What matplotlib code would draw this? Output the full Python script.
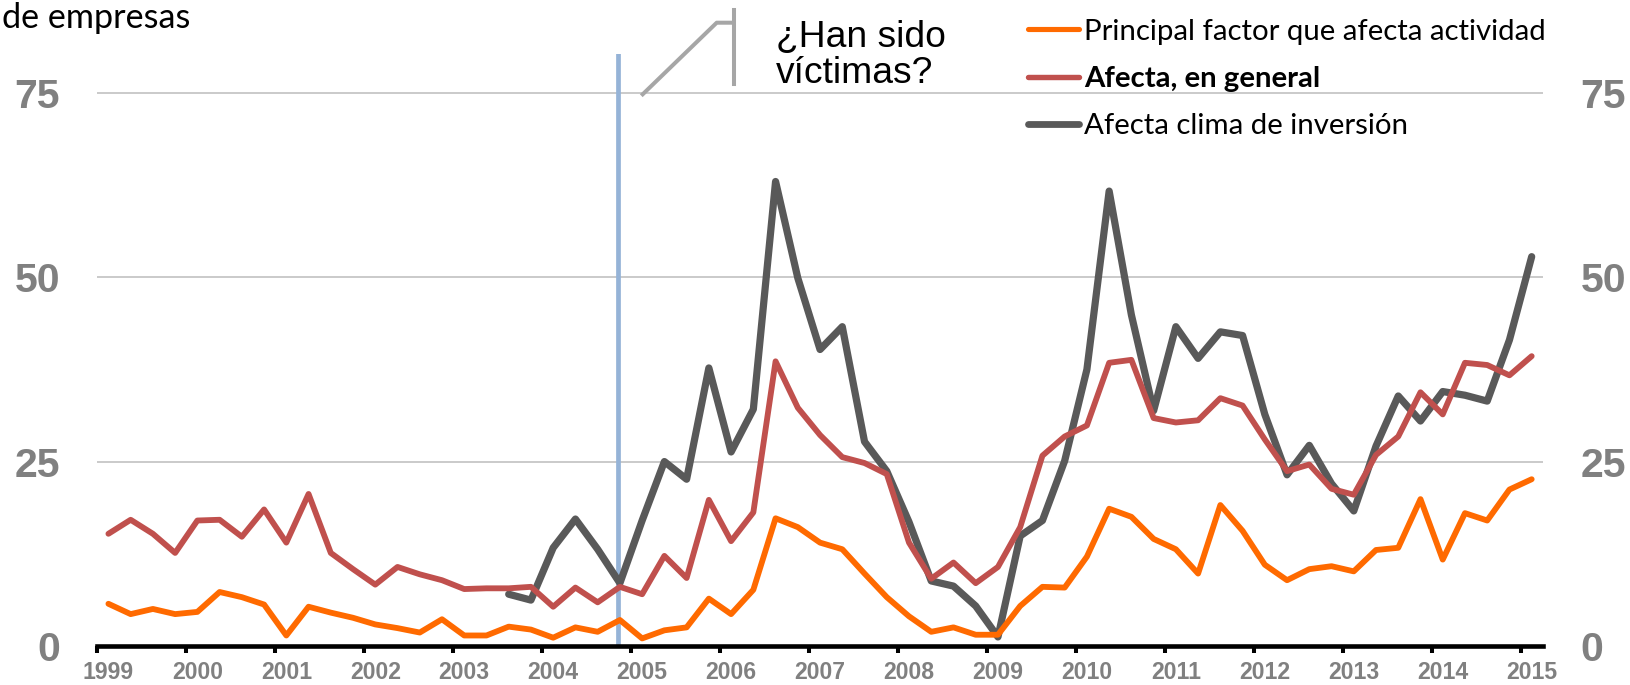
import matplotlib
matplotlib.use("Agg")
import matplotlib.pyplot as plt
from matplotlib.lines import Line2D
import numpy as np

W, H = 1631, 685

years = [str(y) for y in range(1999, 2016)]

principal = [5.7, 4.3, 5.0, 4.3,
             4.6, 7.3, 6.6, 5.6,
             1.4, 5.3, 4.5, 3.8,
             2.9, 2.4, 1.8, 3.6,
             1.4, 1.4, 2.6, 2.2,
             1.1, 2.5, 1.9, 3.5,
             1.0, 2.1, 2.5, 6.4,
             4.3, 7.6, 17.3, 16.1,
             14.0, 13.1, 9.8, 6.6,
             4.0, 1.9, 2.5, 1.5,
             1.5, 5.4, 8.0, 7.9,
             12.1, 18.6, 17.5, 14.5,
             13.1, 9.8, 19.1, 15.6,
             11.0, 8.9, 10.4, 10.8,
             10.1, 13.0, 13.3, 19.9,
             11.7, 18.0, 17.0, 21.2,
             22.6]

general = [15.2, 17.1, 15.2, 12.6,
           17.0, 17.1, 14.8, 18.5,
           14.0, 20.6, 12.6, 10.4,
           8.3, 10.7, 9.7, 8.9,
           7.7, 7.8, 7.8, 8.0,
           5.3, 7.9, 5.9, 8.0,
           7.0, 12.2, 9.2, 19.8,
           14.2, 18.1, 38.6, 32.3,
           28.6, 25.6, 24.8, 23.3,
           14.0, 9.1, 11.3, 8.5,
           10.7, 16.1, 25.8, 28.4,
           29.9, 38.4, 38.8, 30.9,
           30.3, 30.6, 33.6, 32.6,
           28.0, 23.7, 24.6, 21.3,
           20.5, 25.9, 28.4, 34.4,
           31.4, 38.4, 38.1, 36.7,
           39.3]

clima = [None] * 18 + [7.0, 6.2,
         13.3, 17.2, 13.1, 8.5,
         17.0, 25.0, 22.6, 37.7,
         26.3, 32.1, 63.0, 49.9,
         40.2, 43.3, 27.7, 23.7,
         16.8, 8.8, 8.1, 5.4,
         1.2, 14.9, 17.0, 25.1,
         37.5, 61.7, 44.9, 31.9,
         43.3, 39.0, 42.6, 42.1,
         31.4, 23.2, 27.2, 22.0,
         18.3, 27.1, 33.9, 30.5,
         34.5, 34.0, 33.2, 41.5,
         52.8]

labels = ["Principal factor que afecta actividad",
          "Afecta, en general",
          "Afecta clima de inversión"]
colors = ["#FF6A00", "#C0504D", "#595959"]
widths = [4.2, 4.2, 5.2]

yticks = [0, 25, 50, 75]
marker_quarter = 22.92   # vertical marker (2004 Q4)

n = len(principal)
x = np.arange(n)

def fx(px):
    return px / W

def fy(py):
    return 1 - py / H

fig = plt.figure(figsize=(W / 100, H / 100), dpi=100)
ax_l, ax_r, ax_t, ax_b = 97.3, 1542.8, 54.0, 645.8
ax = fig.add_axes([fx(ax_l), fy(ax_b), fx(ax_r - ax_l), (ax_b - ax_t) / H])

ax.set_xlim(-0.5, n - 0.5)
ax.set_ylim(0, 80.3)

for v in yticks[1:]:
    ax.axhline(v, color="#C6C6C6", lw=1.3, zorder=1)

ax.axvline(marker_quarter, color="#95B3D7", lw=3.4, zorder=2)

series = [principal, general, clima]
zo = [5, 4, 3]
for s, c, w, z, lab in zip(series, colors, widths, zo, labels):
    arr = np.array([np.nan if v is None else v for v in s], dtype=float)
    ax.plot(x, arr, color=c, lw=w, solid_joinstyle="round",
            solid_capstyle="round", zorder=z, label=lab)

for sp in ["top", "right", "left"]:
    ax.spines[sp].set_visible(False)
ax.spines["bottom"].set_linewidth(3.3)
ax.spines["bottom"].set_color("black")
ax.spines["bottom"].set_zorder(6)

# x ticks at year boundaries, labels at first quarter
ax.set_xticks(np.arange(0, n, 4) - 0.5)
ax.set_xticklabels([])
ax.set_xticks(np.arange(0, n, 4), minor=True)
ax.set_xticklabels(years, minor=True)
ax.tick_params(axis="x", which="major", length=5, width=2.9, color="black", direction="out")
ax.tick_params(axis="x", which="minor", length=0, pad=10.8,
               labelsize=16.6, labelcolor="#808080")
for t in ax.get_xticklabels(minor=True):
    t.set_fontfamily("Liberation Sans")
    t.set_fontweight("bold")

ax.set_yticks(yticks)
ax.set_yticklabels([str(v) for v in yticks])
ax.tick_params(axis="y", which="both", length=0, pad=27, labelsize=29.5,
               labelcolor="#808080", labelright=True, right=False)
ax.yaxis.set_tick_params(labelleft=True, labelright=True)
for tick in ax.yaxis.get_major_ticks():
    for lbl in (tick.label1, tick.label2):
        lbl.set_fontfamily("Liberation Sans")
        lbl.set_fontweight("bold")

# legend drawn manually in pixel positions
leg_y = [29.3, 76.7, 124.0]
leg_w = [3.7, 3.9, 4.9]
for lab, c, yy, lw, bold in zip(labels, colors, leg_y, leg_w, [False, True, False]):
    fig.add_artist(Line2D([fx(1028), fx(1079)], [fy(yy), fy(yy)], color=c, lw=lw,
                          solid_capstyle="round", transform=fig.transFigure))
    fig.text(fx(1084), fy(yy), lab, fontsize=21.2, family="Lato",
             fontweight="bold" if bold else "normal",
             ha="left", va="center_baseline", color="black")

# question text + callout
fig.text(fx(776), fy(46.7), "¿Han sido", fontsize=26.8, family="Liberation Sans",
         ha="left", va="baseline", color="black")
fig.text(fx(776), fy(83.3), "víctimas?", fontsize=26.8, family="Liberation Sans",
         ha="left", va="baseline", color="black")
callout_x = [642.7, 716.7, 733.3]
callout_y = [94.3, 22.7, 22.7]
fig.add_artist(Line2D([fx(v) for v in callout_x], [fy(v) for v in callout_y],
                      color="#A6A6A6", lw=2.9, transform=fig.transFigure))
fig.add_artist(Line2D([fx(734), fx(734)], [fy(10), fy(84)],
                      color="#A6A6A6", lw=2.9, transform=fig.transFigure))

fig.text(fx(2), fy(27.5), "de empresas", fontsize=24.6, family="Lato",
         ha="left", va="baseline", color="black")

fig.savefig("out.png", dpi=100)
